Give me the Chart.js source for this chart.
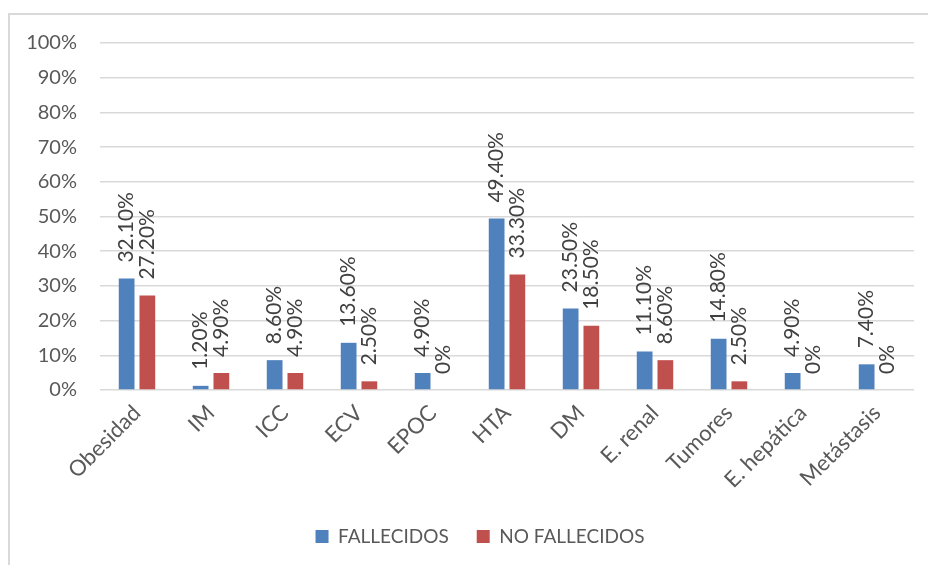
<!DOCTYPE html>
<html>
<head>
<meta charset="utf-8">
<script src="https://cdn.jsdelivr.net/npm/chart.js@4.4.1/dist/chart.umd.min.js"></script>
<style>
    html, body { margin: 0; padding: 0; background: #fff; overflow: hidden; }
    #wrap { position: relative; width: 928px; height: 565px; }
    #frame {
        position: absolute; left: 8px; top: 13px; width: 960px; height: 600px;
        border: 2px solid #d9d9d9; box-sizing: border-box;
    }
    #chart { position: absolute; left: 0; top: 0; }
</style>
</head>
<body>
<div id="wrap">
    <div id="frame"></div>
    <canvas id="chart" width="928" height="565"></canvas>
</div>
<script>
const categories = ['Obesidad', 'IM', 'ICC', 'ECV', 'EPOC', 'HTA', 'DM', 'E. renal', 'Tumores', 'E. hepática', 'Metástasis'];
const fallecidos = [32.1, 1.2, 8.6, 13.6, 4.9, 49.4, 23.5, 11.1, 14.8, 4.9, 7.4];
const noFallecidos = [27.2, 4.9, 4.9, 2.5, 0, 33.3, 18.5, 8.6, 2.5, 0, 0];
const yTicks = [0, 10, 20, 30, 40, 50, 60, 70, 80, 90, 100];

const FONT = 'Lato, "Open Sans", sans-serif';

function fmtPct(v) {
    return v === 0 ? '0%' : v.toFixed(2) + '%';
}

// vertical value labels above each bar
const barLabels = {
    id: 'barLabels',
    afterDatasetsDraw(chart) {
        const ctx = chart.ctx;
        ctx.save();
        ctx.font = '21px ' + FONT;
        ctx.fillStyle = '#404040';
        ctx.textAlign = 'left';
        ctx.textBaseline = 'middle';
        chart.data.datasets.forEach((ds, i) => {
            chart.getDatasetMeta(i).data.forEach((bar, j) => {
                ctx.save();
                ctx.translate(bar.x, bar.y - 16);
                ctx.rotate(-Math.PI / 2);
                ctx.fillText(fmtPct(ds.data[j]), 0, 0);
                ctx.restore();
            });
        });
        ctx.restore();
    }
};

// centre the legend under the whole frame instead of the chart box
const legendShift = {
    id: 'legendShift',
    afterLayout(chart) {
        chart.legend.left += 23;
        chart.legend.right += 23;
    }
};

new Chart(document.getElementById('chart'), {
    type: 'bar',
    data: {
        labels: categories,
        datasets: [
            { label: 'FALLECIDOS', data: fallecidos, backgroundColor: '#4f81bd' },
            { label: 'NO FALLECIDOS', data: noFallecidos, backgroundColor: '#c0504d' }
        ]
    },
    options: {
        responsive: false,
        animation: false,
        layout: { padding: { top: 43, left: 0, right: 14, bottom: 9 } },
        datasets: {
            bar: { categoryPercentage: 0.56, barPercentage: 0.76 }
        },
        plugins: {
            legend: {
                position: 'bottom',
                labels: {
                    boxWidth: 13,
                    boxHeight: 13,
                    padding: 28,
                    color: '#595959',
                    font: { family: FONT, size: 19 }
                }
            },
            tooltip: { enabled: false }
        },
        scales: {
            x: {
                grid: { display: false, drawTicks: false },
                border: { display: false },
                ticks: {
                    color: '#595959',
                    font: { family: FONT, size: 22 },
                    minRotation: 45,
                    maxRotation: 45,
                    padding: 10
                },
                afterFit(scale) { scale.height = 109; }
            },
            y: {
                min: 0,
                max: 100,
                afterBuildTicks(scale) { scale.ticks = yTicks.map(v => ({ value: v })); },
                grid: { color: '#d9d9d9', lineWidth: 1.5, drawTicks: false },
                border: { display: false },
                ticks: {
                    color: '#595959',
                    font: { family: FONT, size: 20 },
                    padding: 23,
                    callback: v => v + '%'
                },
                afterFit(scale) { scale.width = 100; }
            }
        }
    },
    plugins: [barLabels, legendShift]
});
</script>
</body>
</html>
